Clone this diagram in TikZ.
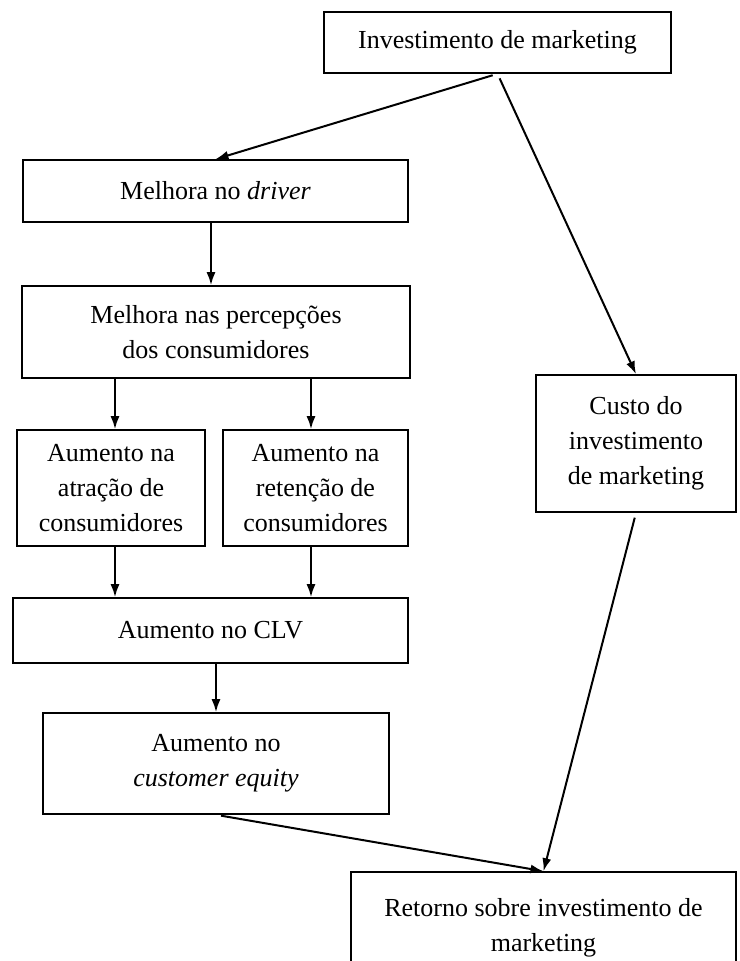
\documentclass[tikz,border=0pt]{standalone}
\usepackage{fontspec}
\setmainfont{Liberation Serif}
\usetikzlibrary{arrows.meta}

\begin{document}
\begin{tikzpicture}[x=1pt, y=-1pt,
  box/.style={draw, line width=1.6pt, align=center, inner sep=0pt, font=\fontsize{26}{35}\selectfont},
  link/.style={-{Latex[length=13pt,width=9pt]}, line width=2pt}]
  \useasboundingbox (0,0) rectangle (739,961);

  \node[box, minimum width=347, minimum height=61] (A) at (497.5,42.5) {Investimento de marketing};
  \node[box, minimum width=385, minimum height=62] (B) at (215.5,191) {Melhora no \textit{driver}};
  \node[box, minimum width=388, minimum height=92] (C) at (216,332) {Melhora nas percepções\\ dos consumidores};
  \node[box, minimum width=188, minimum height=116] (D) at (111,488) {Aumento na\\ atração de\\ consumidores};
  \node[box, minimum width=185, minimum height=116] (E) at (315.5,488) {Aumento na\\ retenção de\\ consumidores};
  \node[box, minimum width=395, minimum height=65] (F) at (210.5,630.5) {Aumento no CLV};
  \node[box, minimum width=346, minimum height=101] (G) at (216,763.5) {Aumento no\\ \textit{customer equity}};

  \node[box, minimum width=200, minimum height=137] (H) at (636,443.5) {Custo do\\ investimento\\ de marketing};
  \node[box, minimum width=385, minimum height=112] (I) at (543.5,928) {Retorno sobre investimento de\\ marketing};

  \draw[link, shorten <=5pt] (A.south) -- (B.north);
  \draw[link, shorten <=5pt] (A.south) -- (H.north);

  \draw[link] ([xshift=-4.5pt]B.south) -- ([xshift=-4.5pt]B.south |- C.north);
  \draw[link] ([xshift=4pt]D.north |- C.south) -- ([xshift=4pt]D.north);
  \draw[link] ([xshift=-4.5pt]E.north |- C.south) -- ([xshift=-4.5pt]E.north);
  \draw[link] ([xshift=4pt]D.south) -- ([xshift=4pt]D.south |- F.north);
  \draw[link] ([xshift=-4.5pt]E.south) -- ([xshift=-4.5pt]E.south |- F.north);
  \draw[link] (G.north |- F.south) -- (G.north);

  \draw[link, shorten <=5pt] (G.south) -- (I.north);
  \draw[link, shorten <=5pt] (H.south) -- (I.north);

\end{tikzpicture}
\end{document}
